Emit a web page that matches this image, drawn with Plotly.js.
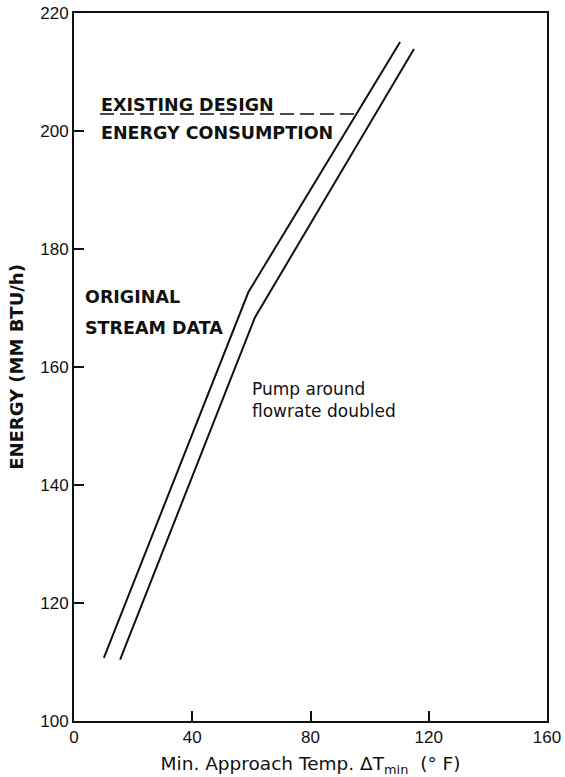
<!DOCTYPE html>
<html>
<head>
<meta charset="utf-8">
<script src="https://cdn.plot.ly/plotly-3.0.1.min.js"></script>
<style>
html,body{margin:0;padding:0;background:#fff;}
#chart{width:565px;height:777px;}
</style>
</head>
<body>
<div id="chart"></div>
<script>
// Original stream data curve
const originalX = [10.1, 59, 110.3];
const originalY = [110.7, 172.7, 215.1];
// Pump around flowrate doubled curve
const pumpX = [15.6, 61.2, 115];
const pumpY = [110.4, 168.4, 213.9];
// Existing design energy consumption (dashed)
const existingX = [8.8, 95.9];
const existingY = [202.9, 202.9];

const xTicks = [0, 40, 80, 120, 160];
const yTicks = [100, 120, 140, 160, 180, 200, 220];

const black = '#111';
const traces = [
  {x: originalX, y: originalY, mode: 'lines', line: {color: black, width: 2}, name: 'Original stream data', hoverinfo: 'x+y'},
  {x: pumpX, y: pumpY, mode: 'lines', line: {color: black, width: 2}, name: 'Pump around flowrate doubled', hoverinfo: 'x+y'},
  {x: existingX, y: existingY, mode: 'lines', line: {color: black, width: 1.5, dash: '14px,6px'}, name: 'Existing design', hoverinfo: 'y'}
];

const labelFont = {family: 'DejaVu Sans', size: 17.5, color: black, weight: 'bold'};
const annFont = {family: 'DejaVu Sans', size: 17, color: black};
const ann = (x, y, text, font) => ({x: x, y: y, xref: 'x', yref: 'y', text: text, showarrow: false, xanchor: 'left', yanchor: 'middle', font: font});

const layout = {
  width: 565, height: 777,
  margin: {l: 74, r: 18, t: 13, b: 56},
  paper_bgcolor: '#fff', plot_bgcolor: '#fff',
  showlegend: false,
  font: {family: 'Liberation Sans Narrow, Liberation Sans, sans-serif', color: black},
  xaxis: {
    range: [0, 160], tickvals: xTicks, ticktext: xTicks.map(String),
    showgrid: false, zeroline: false, showline: true, mirror: true, linecolor: black, linewidth: 2,
    ticks: 'inside', ticklen: 10, tickwidth: 2, tickcolor: black,
    tickfont: {family: 'Liberation Sans Narrow, Liberation Sans, sans-serif', size: 17, color: black},
    title: {text: 'Min. Approach Temp. ΔT<sub>min</sub>  (° F)', font: {family: 'DejaVu Sans', size: 18.5, color: black}, standoff: 14}
  },
  yaxis: {
    range: [100, 220], tickvals: yTicks, ticktext: yTicks.map(String),
    showgrid: false, zeroline: false, showline: true, mirror: true, linecolor: black, linewidth: 2,
    ticks: 'inside', ticklen: 10, tickwidth: 2, tickcolor: black,
    tickfont: {family: 'Liberation Sans Narrow, Liberation Sans, sans-serif', size: 17, color: black},
    title: {text: 'ENERGY (MM BTU/h)', font: {family: 'DejaVu Sans', size: 18, color: black, weight: 'bold'}, standoff: 12}
  },
  annotations: [
    ann(8.6, 204.4, 'EXISTING DESIGN', labelFont),
    ann(8.6, 199.6, 'ENERGY CONSUMPTION', labelFont),
    ann(3.0, 171.9, 'ORIGINAL', labelFont),
    ann(3.0, 166.6, 'STREAM DATA', labelFont),
    ann(59.6, 156.2, 'Pump around', annFont),
    ann(59.6, 152.6, 'flowrate doubled', annFont)
  ]
};

Plotly.newPlot('chart', traces, layout, {displayModeBar: false, staticPlot: true});
</script>
</body>
</html>
